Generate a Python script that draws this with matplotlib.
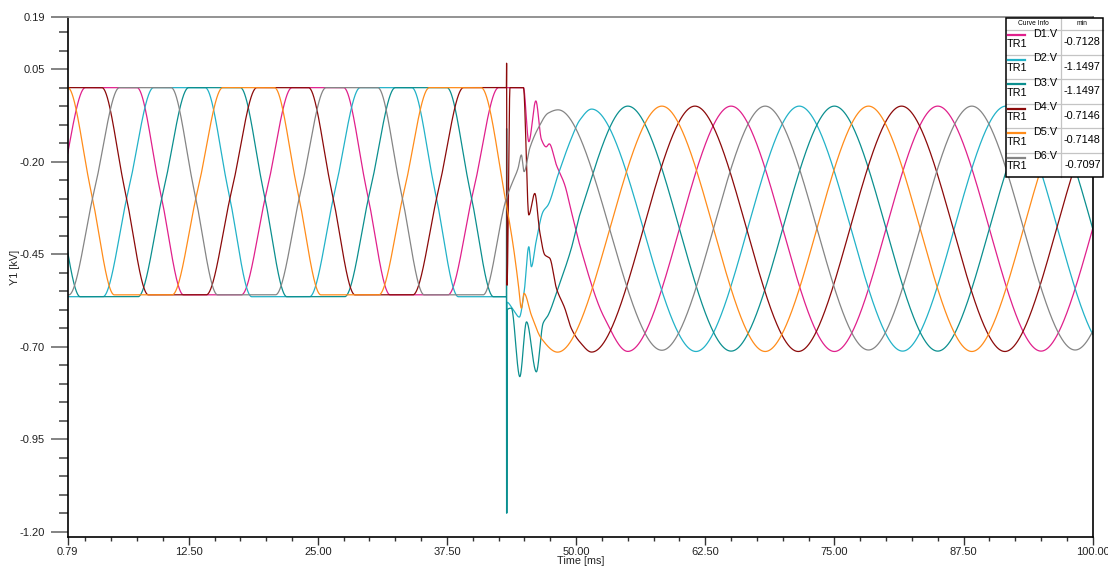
import numpy as np
import matplotlib
matplotlib.use("Agg")
import matplotlib.pyplot as plt
from matplotlib.patches import Rectangle
from matplotlib.lines import Line2D

plt.rcParams["font.family"] = ["Liberation Sans", "DejaVu Sans"]

# ---- curve data: (time [ms], voltage [kV]) key points of each trace ----
D1_T = [-2.4, 0.05, 2.5, 7.5, 9.75, 12.0, 17.6, 20.05, 22.5, 27.5, 29.75, 32.0, 37.6, 40.05, 42.5, 43.25,
        44.9, 45.42, 46.1, 46.64, 47.1, 47.4, 48.09, 48.9, 49.54, 50.35, 52.7, 55.0,
        65.0, 75.0, 85.0, 95.0, 105.0]
D1_V = [-0.56, -0.28, 0.0, 0.0, -0.28, -0.56, -0.56, -0.28, 0.0, 0.0, -0.28, -0.56, -0.56, -0.28, 0.0, 0.0,
        0.0, -0.146, -0.036, -0.14, -0.16, -0.152, -0.209, -0.263, -0.335, -0.425, -0.62, -0.7128,
        -0.05, -0.713, -0.05, -0.712, -0.05]

D2_T = [-3.65, -1.4, 4.2, 6.65, 9.1, 14.1, 16.35, 18.6, 24.2, 26.65, 29.1, 34.1, 36.35, 38.6, 43.25,
        43.27, 43.31, 43.9, 44.5, 44.97, 45.42, 45.67, 46.1, 46.8, 47.29, 48.25, 49.54, 50.35, 51.5,
        61.6, 71.6, 81.6, 91.6, 101.6]
D2_V = [-0.28, -0.565, -0.565, -0.28, 0.0, 0.0, -0.28, -0.565, -0.565, -0.28, 0.0, 0.0, -0.28, -0.565, -0.565,
        -1.1497, -0.58, -0.60, -0.62, -0.552, -0.43, -0.484, -0.42, -0.335, -0.317, -0.236, -0.137, -0.088, -0.058,
        -0.713, -0.05, -0.712, -0.05, -0.712]

D3_T = [-2.5, -0.25, 2.0, 7.6, 10.05, 12.5, 17.5, 19.75, 22.0, 27.6, 30.05, 32.5, 37.5, 39.75, 42.0, 43.25,
        43.27, 43.29, 43.33, 43.73, 44.55, 45.2, 46.15, 46.8, 47.29, 48.25, 49.54, 50.35,
        55.0, 65.0, 75.0, 85.0, 95.0, 105.0]
D3_V = [0.0, -0.28, -0.565, -0.565, -0.28, 0.0, 0.0, -0.28, -0.565, -0.565, -0.28, 0.0, 0.0, -0.28, -0.565, -0.565,
        -0.11, -1.1497, -0.60, -0.596, -0.781, -0.633, -0.768, -0.637, -0.615, -0.542, -0.434, -0.344,
        -0.05, -0.712, -0.05, -0.712, -0.05, -0.712]

D4_T = [-0.9, 4.1, 6.35, 8.6, 14.2, 16.65, 19.1, 24.1, 26.35, 28.6, 34.2, 36.65, 39.1, 43.25,
        43.27, 43.31, 43.6, 44.9, 45.42, 46.0, 46.48, 46.97, 47.45, 48.09, 48.9, 49.54, 50.35, 51.5,
        61.5, 71.5, 81.5, 91.5, 101.5]
D4_V = [0.0, 0.0, -0.28, -0.56, -0.56, -0.28, 0.0, 0.0, -0.28, -0.56, -0.56, -0.28, 0.0, 0.0,
        0.066, -0.534, 0.0, 0.0, -0.344, -0.286, -0.39, -0.452, -0.461, -0.542, -0.596, -0.651, -0.687, -0.7146,
        -0.05, -0.713, -0.05, -0.713, -0.05]

D5_T = [-4.2, 0.8, 3.05, 5.3, 10.9, 13.35, 15.8, 20.8, 23.05, 25.3, 30.9, 33.35, 35.8, 40.8, 43.25,
        43.9, 44.38, 44.7, 44.96, 45.67, 46.64, 48.2,
        58.3, 68.3, 78.3, 88.3, 98.3, 108.3]
D5_V = [0.0, 0.0, -0.28, -0.56, -0.56, -0.28, 0.0, 0.0, -0.28, -0.56, -0.56, -0.28, 0.0, 0.0, -0.317,
        -0.425, -0.525, -0.596, -0.556, -0.615, -0.678, -0.7148,
        -0.05, -0.713, -0.05, -0.713, -0.05, -0.713]

D6_T = [-4.7, 0.9, 3.35, 5.8, 10.8, 13.05, 15.3, 20.9, 23.35, 25.8, 30.8, 33.05, 35.3, 41.0, 43.25,
        43.73, 44.38, 44.7, 44.96, 45.51, 46.32, 47.29, 48.25,
        58.3, 68.3, 78.3, 88.3, 98.3, 108.3]
D6_V = [-0.56, -0.56, -0.28, 0.0, 0.0, -0.28, -0.56, -0.56, -0.28, 0.0, 0.0, -0.28, -0.56, -0.56, -0.299,
        -0.263, -0.218, -0.182, -0.227, -0.164, -0.11, -0.069, -0.06,
        -0.7097, -0.05, -0.709, -0.05, -0.709, -0.05]

NAMES = ["D1.V", "D2.V", "D3.V", "D4.V", "D5.V", "D6.V"]
MINS = ["-0.7128", "-1.1497", "-1.1497", "-0.7146", "-0.7148", "-0.7097"]
COLORS = ["#e0208c", "#22b2c8", "#0b8f8f", "#8b0a0a", "#ff8c1a", "#858585"]

X_MAJOR = [0.79, 12.5, 25.0, 37.5, 50.0, 62.5, 75.0, 87.5, 100.0]
X_LABELS = ["0.79", "12.50", "25.00", "37.50", "50.00", "62.50", "75.00", "87.50", "100.00"]
Y_MAJOR = [0.19, 0.05, -0.20, -0.45, -0.70, -0.95, -1.20]
Y_LABELS = ["0.19", "0.05", "-0.20", "-0.45", "-0.70", "-0.95", "-1.20"]


def pchip(x, y, xs):
    """Shape-preserving piecewise cubic through the key points."""
    x = np.asarray(x, float)
    y = np.asarray(y, float)
    h = np.diff(x)
    delta = np.diff(y) / h
    n = len(x)
    d = np.zeros(n)
    for k in range(1, n - 1):
        if delta[k - 1] * delta[k] > 0:
            w1 = 2 * h[k] + h[k - 1]
            w2 = h[k] + 2 * h[k - 1]
            d[k] = (w1 + w2) / (w1 / delta[k - 1] + w2 / delta[k])
    i = np.clip(np.searchsorted(x, xs, side="right") - 1, 0, n - 2)
    t = (xs - x[i]) / h[i]
    h00 = 2 * t**3 - 3 * t**2 + 1
    h10 = t**3 - 2 * t**2 + t
    h01 = -2 * t**3 + 3 * t**2
    h11 = t**3 - t**2
    return h00 * y[i] + h10 * h[i] * d[i] + h01 * y[i + 1] + h11 * h[i] * d[i + 1]


W, H = 1108, 566
fig = plt.figure(figsize=(W / 100, H / 100), dpi=100)
ax_l, ax_r, ax_t, ax_b = 67.7, 1092.7, 17.3, 537.3
ax = fig.add_axes([ax_l / W, 1 - ax_b / H, (ax_r - ax_l) / W, (ax_b - ax_t) / H])

ts = np.linspace(0.79, 100.0, 40000)
series = [(D1_T, D1_V), (D2_T, D2_V), (D3_T, D3_V), (D4_T, D4_V), (D5_T, D5_V), (D6_T, D6_V)]
for (tt, vv), c in zip(series, COLORS):
    ax.plot(ts, pchip(tt, vv, ts), color=c, lw=0.9, solid_joinstyle="round")

ax.set_xlim(0.79, 100.0)
ax.set_ylim(-1.2151, 0.19)

ax.set_xticks(X_MAJOR)
ax.set_xticklabels(X_LABELS)
ax.set_xticks(np.arange(2.5, 100, 2.5), minor=True)
ax.set_yticks(Y_MAJOR)
ax.set_yticklabels(Y_LABELS)
ax.set_yticks(np.arange(-1.15, 0.16, 0.05), minor=True)

ax.tick_params(axis="y", which="major", direction="out", length=12.2, width=1.3, color="#7a7a7a",
               pad=4.2, labelsize=8, labelcolor="#222222")
ax.tick_params(axis="y", which="minor", direction="out", length=6.5, width=1.1, color="#444444")
ax.tick_params(axis="x", which="major", direction="out", length=5.5, width=1.0, color="#333333",
               pad=1.5, labelsize=8, labelcolor="#222222")
ax.tick_params(axis="x", which="minor", direction="out", length=3.0, width=1.0, color="#333333")

for side in ("left", "bottom", "right"):
    ax.spines[side].set_color("black")
    ax.spines[side].set_linewidth(1.2)
ax.spines["top"].set_color("#8a8a8a")
ax.spines["top"].set_linewidth(1.3)

ax.set_xlabel("Time [ms]", fontsize=7.8, labelpad=-1, color="#222222")
fig.text(15 / W, 1 - 267 / H, "Y1 [kV]", rotation=90, ha="center", va="center", fontsize=7.8, color="#222222")


# ---- curve info table ----
def fx(px):
    return px / W


def fy(py):
    return 1 - py / H


tb_l, tb_r, tb_t, tb_b = 1006.0, 1102.7, 17.5, 177.0
col_x = 1061.0
head_b = 30.0
row_h = (tb_b - head_b) / 6

fig.add_artist(Rectangle((fx(tb_l), fy(tb_b)), fx(tb_r) - fx(tb_l), fy(tb_t) - fy(tb_b),
                         transform=fig.transFigure, facecolor="white", edgecolor="none", zorder=5))
grid_kw = dict(color="#c4c4c4", lw=0.9, transform=fig.transFigure, zorder=6)
fig.add_artist(Line2D([fx(col_x), fx(col_x)], [fy(tb_t), fy(tb_b)], **grid_kw))
fig.add_artist(Line2D([fx(tb_l), fx(tb_r)], [fy(head_b), fy(head_b)], **grid_kw))
for i in range(1, 6):
    yy = head_b + i * row_h
    fig.add_artist(Line2D([fx(tb_l), fx(tb_r)], [fy(yy), fy(yy)], **grid_kw))
fig.add_artist(Rectangle((fx(tb_l), fy(tb_b)), fx(tb_r) - fx(tb_l), fy(tb_t) - fy(tb_b),
                         transform=fig.transFigure, facecolor="none", edgecolor="black", lw=1.1, zorder=7))

fig.text(fx((tb_l + col_x) / 2), fy(23.8), "Curve Info", ha="center", va="center", fontsize=4.8, zorder=8)
fig.text(fx((col_x + tb_r) / 2), fy(23.8), "min", ha="center", va="center", fontsize=4.8, zorder=8)
for i, (name, mn, c) in enumerate(zip(NAMES, MINS, COLORS)):
    r0 = head_b + i * row_h
    fig.add_artist(Line2D([fx(1007.5), fx(1024.5)], [fy(r0 + 5.2), fy(r0 + 5.2)], color=c, lw=1.6,
                          transform=fig.transFigure, zorder=8))
    fig.text(fx(1057.5), fy(r0 + 3.6), name, ha="right", va="center", fontsize=7.8, zorder=8)
    fig.text(fx(1006.8), fy(r0 + 13.6), "TR1", ha="left", va="center", fontsize=7.8, zorder=8)
    fig.text(fx((col_x + tb_r) / 2 + 0.5), fy(r0 + 12.4), mn, ha="center", va="center", fontsize=7.8, zorder=8)

fig.savefig("out.png", dpi=100, facecolor="white")
